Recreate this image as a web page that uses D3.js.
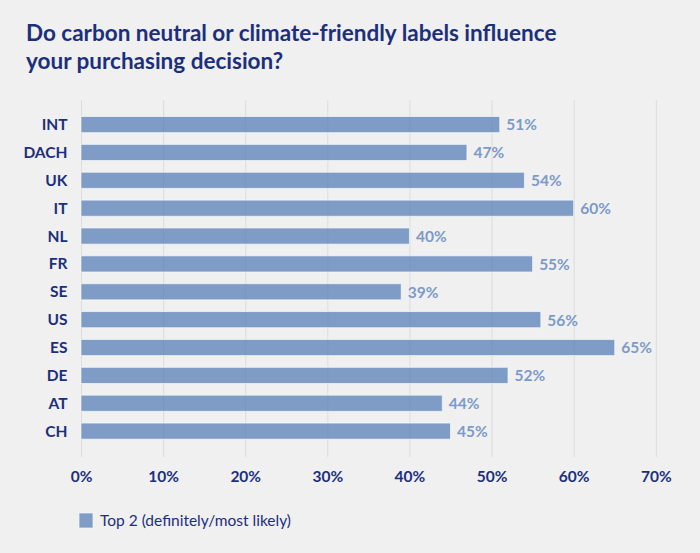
<!DOCTYPE html>
<html>
<head>
<meta charset="utf-8">
<script src="https://cdn.jsdelivr.net/npm/d3@7"></script>
<style>
  body { margin: 0; background: #f0f0f0; }
  svg { display: block; }
  text { font-family: Lato, "Open Sans", sans-serif; }
</style>
</head>
<body>
<div id="chart"></div>
<script>
const countries = ['INT', 'DACH', 'UK', 'IT', 'NL', 'FR', 'SE', 'US', 'ES', 'DE', 'AT', 'CH'];
const top2 = [51, 47, 54, 60, 40, 55, 39, 56, 65, 52, 44, 45];
const xTicks = [0, 10, 20, 30, 40, 50, 60, 70];
const titleLines = ['Do carbon neutral or climate-friendly labels influence', 'your purchasing decision?'];
const legendLabel = 'Top 2 (definitely/most likely)';

const width = 700, height = 553;
const navy = '#1b2f7d';
const barColor = '#7b9ac9';

const svg = d3.select('#chart').append('svg')
  .attr('width', width)
  .attr('height', height);

svg.append('rect').attr('width', width).attr('height', height).attr('fill', '#f0f0f0');

// title
svg.append('g').selectAll('text')
  .data(titleLines)
  .join('text')
  .attr('x', 26)
  .attr('y', (d, i) => 40.5 + i * 28)
  .attr('fill', navy)
  .attr('font-size', 22.5)
  .attr('font-weight', 700)
  .text(d => d);

const x = d3.scaleLinear().domain([0, 70]).range([81, 655.8]);
const y = d3.scaleBand().domain(countries).range([116.5, 439.2]).paddingInner(0.42).paddingOuter(0);

// grid
svg.append('g').selectAll('line')
  .data(xTicks)
  .join('line')
  .attr('x1', d => x(d) + 0.5).attr('x2', d => x(d) + 0.5)
  .attr('y1', 100).attr('y2', 457)
  .attr('stroke', '#dcdcdc')
  .attr('stroke-width', 1);

// bars
const rows = countries.map((c, i) => ({ c, v: top2[i] }));

svg.append('g').selectAll('rect')
  .data(rows)
  .join('rect')
  .attr('x', x(0))
  .attr('y', d => y(d.c))
  .attr('width', d => x(d.v) - x(0))
  .attr('height', y.bandwidth())
  .attr('fill', '#4a74b3')
  .attr('fill-opacity', 0.68)
  .attr('stroke', '#f7f9fc')
  .attr('stroke-opacity', 0.7)
  .attr('stroke-width', 1);

// category labels
svg.append('g').selectAll('text')
  .data(rows)
  .join('text')
  .attr('x', 67.5)
  .attr('y', d => y(d.c) + y.bandwidth() / 2)
  .attr('dy', '0.36em')
  .attr('text-anchor', 'end')
  .attr('fill', navy)
  .attr('font-size', 15.5)
  .attr('font-weight', 700)
  .text(d => d.c);

// value labels
svg.append('g').selectAll('text')
  .data(rows)
  .join('text')
  .attr('x', d => x(d.v) + 6.5)
  .attr('y', d => y(d.c) + y.bandwidth() / 2)
  .attr('dy', '0.38em')
  .attr('fill', barColor)
  .attr('font-size', 15.5)
  .attr('font-weight', 700)
  .text(d => d.v + '%');

// x axis
const xAxis = svg.append('g')
  .attr('transform', 'translate(0,468)')
  .call(d3.axisBottom(x).tickValues(xTicks).tickFormat(d => d + '%').tickSize(0));
xAxis.select('.domain').remove();
xAxis.selectAll('text')
  .attr('fill', navy)
  .attr('font-size', 15.5)
  .attr('font-weight', 700)
  .attr('font-family', 'Lato, sans-serif');

// legend
const legend = svg.append('g').attr('transform', 'translate(79,513)');
legend.append('rect')
  .attr('width', 14).attr('height', 15)
  .attr('fill', '#4a74b3').attr('fill-opacity', 0.68)
  .attr('stroke', '#f7f9fc').attr('stroke-opacity', 0.7);
legend.append('text')
  .attr('x', 21).attr('y', 7.5).attr('dy', '0.36em')
  .attr('fill', navy)
  .attr('font-size', 15.5)
  .text(legendLabel);
</script>
</body>
</html>
